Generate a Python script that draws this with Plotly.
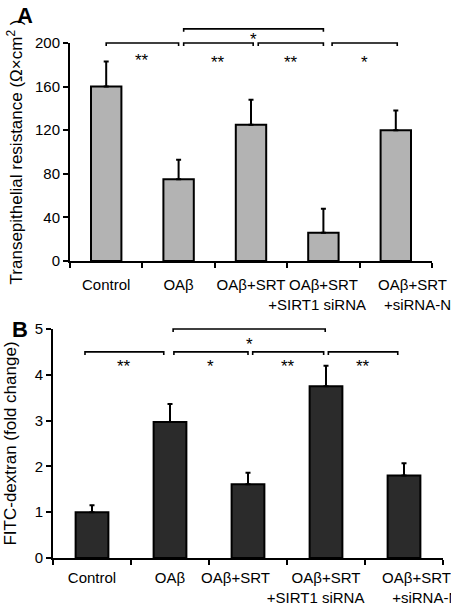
import plotly.graph_objects as go

# ---------------- data ----------------
categories = ["Control", "OAβ", "OAβ+SRT", "OAβ+SRT +SIRT1 siRNA", "OAβ+SRT +siRNA-NC"]

NB = "\u00a0"
# tick label text (line breaks / padding reproduce the hand-placed labels of the original)
teer_ticktext = ["Control", "OAβ", "OAβ+SRT",
                 "OAβ+SRT<br>+SIRT1 siRNA" + NB * 3,
                 NB * 8 + "OAβ+SRT<br>" + NB * 13 + "+siRNA-NC"]
fitc_ticktext = ["Control", "OAβ", "OAβ+SRT" + NB * 6,
                 "OAβ+SRT<br>+SIRT1 siRNA" + NB * 5,
                 NB * 6 + "OAβ+SRT<br>" + NB * 13 + "+siRNA-NC"]

teer_mean = [160, 75, 125, 26, 120]
teer_err = [23, 18, 23, 22, 18]
teer_ticks = [0, 40, 80, 120, 160, 200]

fitc_mean = [1.0, 2.97, 1.61, 3.75, 1.80]
fitc_err = [0.15, 0.39, 0.25, 0.45, 0.27]
fitc_ticks = [0, 1, 2, 3, 4, 5]

# significance brackets: (start category pos, end category pos, level, label)
teer_brackets = [
    (0.0, 1.0, 200, "**"),
    (1.07, 2.03, 200, "**"),
    (2.1, 3.0, 200, "**"),
    (3.12, 4.02, 200, "*"),
    (1.07, 3.0, 213, "*"),
]
fitc_brackets = [
    (-0.09, 0.92, 4.5, "**"),
    (1.05, 2.0, 4.5, "*"),
    (2.06, 2.97, 4.5, "**"),
    (3.03, 3.92, 4.5, "**"),
    (1.04, 2.99, 5.0, "*"),
]
# vertical gap (px) between a bracket and its stars
teer_star_gap = [18, 20, 20, 20, 11]
fitc_star_gap = [15, 15, 15, 15, 15]

W, H = 451, 605
A_xdom = [70 / W, 432 / W]
A_ydom = [1 - 261 / H, 1 - 43 / H]
A_yrange = [0, 200]
B_xdom = [53 / W, 443 / W]
B_ydom = [1 - 558 / H, 1 - 329 / H]
B_yrange = [0, 5]
xrange_ = [-0.5, 4.5]

FONT = "Liberation Sans, Arial, sans-serif"

fig = go.Figure()
fig.add_trace(go.Bar(
    x=categories, y=teer_mean, width=0.42,
    marker=dict(color="#b3b3b3", line=dict(color="black", width=2)),
    error_y=dict(type="data", symmetric=False, array=teer_err, arrayminus=[0] * 5,
                 color="black", thickness=2, width=2.5),
    xaxis="x", yaxis="y", showlegend=False,
))
fig.add_trace(go.Bar(
    x=categories, y=fitc_mean, width=0.42,
    marker=dict(color="#2b2b2b", line=dict(color="black", width=2)),
    error_y=dict(type="data", symmetric=False, array=fitc_err, arrayminus=[0] * 5,
                 color="black", thickness=2, width=2.5),
    xaxis="x2", yaxis="y2", showlegend=False,
))


def xp(v, dom):
    return dom[0] + (v - xrange_[0]) / (xrange_[1] - xrange_[0]) * (dom[1] - dom[0])


def yp(v, dom, rng):
    return dom[0] + (v - rng[0]) / (rng[1] - rng[0]) * (dom[1] - dom[0])


shapes = []
annotations = []
tick = 3 / H
for brackets, gaps, xd, yd, yr in [(teer_brackets, teer_star_gap, A_xdom, A_ydom, A_yrange),
                                   (fitc_brackets, fitc_star_gap, B_xdom, B_ydom, B_yrange)]:
    for (s, e, lvl, lab), g in zip(brackets, gaps):
        x0, x1 = xp(s, xd), xp(e, xd)
        y = yp(lvl, yd, yr)
        shapes.append(dict(type="path", xref="paper", yref="paper",
                           path=f"M {x0},{y - tick} L {x0},{y} L {x1},{y} L {x1},{y - tick}",
                           line=dict(color="black", width=1.6)))
        annotations.append(dict(x=(x0 + x1) / 2, y=y - g / H, xref="paper", yref="paper",
                                text=lab, showarrow=False, xanchor="center", yanchor="middle",
                                font=dict(size=17, color="black", family=FONT)))

annotations.append(dict(x=25 / W, y=1 - 16 / H, xref="paper", yref="paper", text="<b>A</b>",
                        showarrow=False, xanchor="center", yanchor="middle",
                        font=dict(size=22, color="black", family=FONT)))
annotations.append(dict(x=20 / W, y=1 - 329 / H, xref="paper", yref="paper", text="<b>B</b>",
                        showarrow=False, xanchor="center", yanchor="middle",
                        font=dict(size=22, color="black", family=FONT)))

axis_common = dict(showline=True, linecolor="black", linewidth=2, ticks="outside",
                   tickcolor="black", tickwidth=2, ticklen=5, showgrid=False, zeroline=False,
                   automargin=False, tickangle=0,
                   tickfont=dict(size=15, color="black", family=FONT))

fig.update_layout(
    width=W, height=H, margin=dict(l=0, r=0, t=0, b=0),
    paper_bgcolor="white", plot_bgcolor="white",
    font=dict(family=FONT, color="black"),
    xaxis=dict(domain=A_xdom, anchor="y", type="category", range=xrange_,
               tickson="boundaries", tickvals=categories, ticktext=teer_ticktext,
               ticklabelstandoff=9, **axis_common),
    yaxis=dict(domain=A_ydom, anchor="x", range=A_yrange, tickvals=teer_ticks,
               title=dict(text="Transepithelial resistance (Ω×cm<sup>2</sup> )",
                          font=dict(size=17, color="black", family=FONT), standoff=8),
               **axis_common),
    xaxis2=dict(domain=B_xdom, anchor="y2", type="category", range=xrange_,
                tickson="boundaries", tickvals=categories, ticktext=fitc_ticktext,
                ticklabelstandoff=5, **axis_common),
    yaxis2=dict(domain=B_ydom, anchor="x2", range=B_yrange, tickvals=fitc_ticks,
                title=dict(text="FITC-dextran (fold change)",
                           font=dict(size=17, color="black", family=FONT), standoff=14),
                **axis_common),
    shapes=shapes, annotations=annotations, bargap=0.58,
)

fig.write_html("out.html", config={"displayModeBar": False},
               post_script="document.body.style.margin='0';")
